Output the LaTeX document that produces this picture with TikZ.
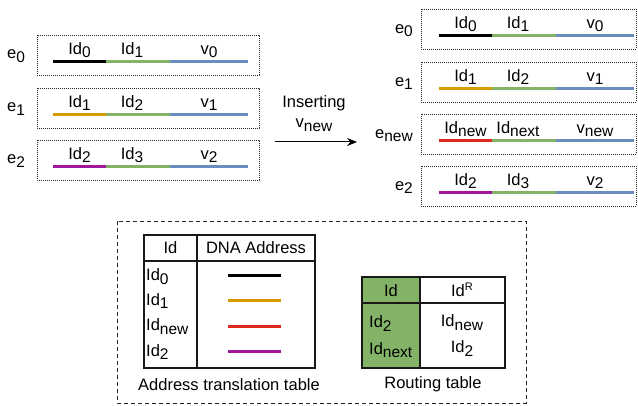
\documentclass[tikz,border=0pt]{standalone}
\usepackage{fontspec}
\setmainfont{Liberation Sans}
\usetikzlibrary{arrows.meta}

\definecolor{cgreen}{HTML}{82B366}
\definecolor{cblue}{HTML}{6C8EBF}
\definecolor{corange}{HTML}{D79B00}
\definecolor{cred}{HTML}{E0281E}
\definecolor{cpurple}{HTML}{A2159E}

% text with a lowered index / raised exponent
\newcommand\lab[2]{#1\raisebox{-3.5pt}{\fontsize{15.5}{16}\selectfont #2}}
\newcommand\supx[2]{#1\raisebox{6pt}{\fontsize{11}{12}\selectfont #2}}

% one entry: dotted frame with the three coloured fields
% #1 line start x, #2 line y, #3 frame right (local), #4 frame left margin,
% #5 colour of the first field, #6-#8 field labels, #9 node name prefix
\newcommand\record[9]{%
  \begin{scope}[shift={(#1,#2)}]
    \draw[dotbox] (-#4,-27) rectangle (#3,13);
    \draw[seg,draw=#5] (0,0) -- (53,0);
    \draw[seg,draw=cgreen] (53,0) -- (117,0);
    \draw[seg,draw=cblue] (117,0) -- (195,0);
    \node (#9a) at (26.5,-7.5) {#6};
    \node (#9b) at (79,-7.5) {#7};
    \node (#9c) at (156,-7.5) {#8};
  \end{scope}}

\begin{document}
\begin{tikzpicture}[x=1pt,y=-1pt,
  every node/.style={font=\fontsize{16.5}{18}\selectfont, inner sep=0pt, anchor=base},
  dotbox/.style={draw=black!85, line width=0.9pt, dash pattern=on 0.9pt off 1.1pt},
  seg/.style={line width=3pt},
  tbl/.style={draw=black!90, line width=1.6pt},
  addr/.style={line width=3pt},
  elab/.style={anchor=base west},
  erab/.style={anchor=base east}]
\useasboundingbox (0,0) rectangle (638,406);

% entries before insertion
\record{53}{62}{206}{16}{black}{\lab{Id}{0}}{\lab{Id}{1}}{\lab{v}{0}}{la}
\record{53}{115}{206}{16}{corange}{\lab{Id}{1}}{\lab{Id}{2}}{\lab{v}{1}}{lb}
\record{53}{167}{206}{16}{cpurple}{\lab{Id}{2}}{\lab{Id}{3}}{\lab{v}{2}}{lc}
\node[elab] (le0) at (7,59) {\lab{e}{0}};
\node[elab] (le1) at (7,112) {\lab{e}{1}};
\node[elab] (le2) at (7,164) {\lab{e}{2}};

% entries after insertion
\record{439}{36}{197}{18}{black}{\lab{Id}{0}}{\lab{Id}{1}}{\lab{v}{0}}{ra}
\record{439}{89}{197}{18}{corange}{\lab{Id}{1}}{\lab{Id}{2}}{\lab{v}{1}}{rb}
\record{439}{141}{197}{18}{cred}{\lab{Id}{new}}{\lab{Id}{next}}{\lab{v}{new}}{rc}
\record{439}{193}{197}{18}{cpurple}{\lab{Id}{2}}{\lab{Id}{3}}{\lab{v}{2}}{rd}
\node[erab] (re0) at (413,33.5) {\lab{e}{0}};
\node[erab] (re1) at (413,86.5) {\lab{e}{1}};
\node[erab] (re2) at (413,138.5) {\lab{e}{new}};
\node[erab] (re3) at (413,190.5) {\lab{e}{2}};

% insertion arrow
\coordinate (arrS) at (275,142);
\coordinate (arrE) at (357,142);
\draw[line width=1pt, -{Stealth[length=10pt,width=8pt]}] (arrS) -- (arrE);
\node (ins1) at (314,108) {Inserting};
\node (ins2) at (314,128) {\lab{v}{new}};

% tables frame
\draw[draw=black!85, line width=0.9pt, dash pattern=on 4pt off 3pt] (117,221) rectangle (526,403);

% address translation table
\draw[tbl] (144,235) rectangle (315,368);
\draw[tbl] (144,261) -- (315,261);
\draw[tbl] (197,235) -- (197,368);
\node (ath1) at (170.5,254) {Id};
\node (ath2) at (256,254) {DNA Address};
\node[elab] (at0) at (146,281) {\lab{Id}{0}};
\node[elab] (at1) at (146,305.5) {\lab{Id}{1}};
\node[elab] (at2) at (146,331) {\lab{Id}{new}};
\node[elab] (at3) at (146,356.5) {\lab{Id}{2}};
\draw[addr,black] (228,276) -- (281,276);
\draw[addr,corange] (228,300.5) -- (281,300.5);
\draw[addr,cred] (228,326.5) -- (281,326.5);
\draw[addr,cpurple] (228,352) -- (281,352);
\node (atcap) at (229,390.5) {Address translation table};

% routing table
\fill[cgreen] (362,277) rectangle (420,368);
\draw[tbl] (362,277) rectangle (505,368);
\draw[tbl] (362,303) -- (505,303);
\draw[tbl] (420,277) -- (420,368);
\node (rth1) at (391,297) {Id};
\node (rth2) at (462,297) {\supx{Id}{R}};
\node[elab] (rt1) at (369,328) {\lab{Id}{2}};
\node[elab] (rt2) at (369,354.5) {\lab{Id}{next}};
\node (rt3) at (462,327) {\lab{Id}{new}};
\node (rt4) at (462,353) {\lab{Id}{2}};
\node (rtcap) at (433,388.5) {Routing table};
\end{tikzpicture}
\end{document}
